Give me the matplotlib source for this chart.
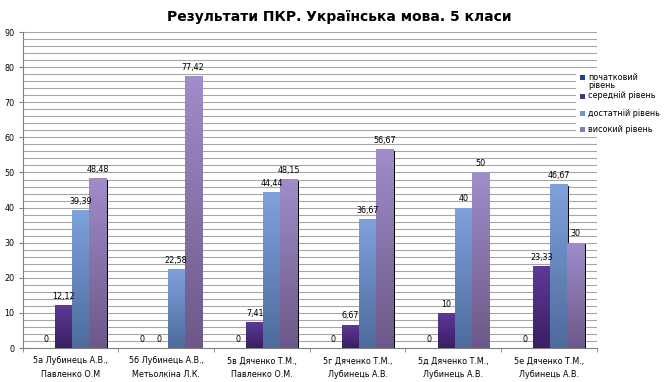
import matplotlib
matplotlib.use("Agg")
import matplotlib.pyplot as plt
import numpy as np
from matplotlib.colors import LinearSegmentedColormap
from matplotlib.patches import Rectangle

# ============================================================================
# Data
# ============================================================================

CATEGORIES = [
    "5а Лубинець А.В.,\nПавленко О.М",
    "5б Лубинець А.В.,\nМетьолкіна Л.К.",
    "5в Дяченко Т.М.,\nПавленко О.М.",
    "5г Дяченко Т.М.,\nЛубинець А.В.",
    "5д Дяченко Т.М.,\nЛубинець А.В.",
    "5е Дяченко Т.М.,\nЛубинець А.В.",
]
SERIES_NAMES = ["початковий\nрівень", "середній рівень", "достатній рівень", "високий рівень"]
POCHATKOVYI = [0, 0, 0, 0, 0, 0]
SEREDNII = [12.12, 0, 7.41, 6.67, 10, 23.33]
DOSTATNII = [39.39, 22.58, 44.44, 36.67, 40, 46.67]
VYSOKYI = [48.48, 77.42, 48.15, 56.67, 50, 30]
Y_TICKS = list(range(0, 91, 10))

# (top colour, bottom colour) for each series
SERIES_COLORS = [
    ("#2a4f9e", "#1b3577"),
    ("#5c3a98", "#3a1f62"),
    ("#7fa2dc", "#4d6b9c"),
    ("#a08dca", "#6c5888"),
]
LEGEND_COLORS = ["#1f3f8f", "#4e2d85", "#6f93cf", "#8c79b4"]
# legend row positions (pixels from top)
LEGEND_ROWS_PX = [77, 96, 113, 129]


def fmt(v):
    s = f"{v:.2f}".rstrip("0").rstrip(".")
    return s.replace(".", ",")


def main():
    W, H = 666, 382
    fig = plt.figure(figsize=(W / 100, H / 100), dpi=100)
    ax = fig.add_axes([0.034, 0.089, 0.862, 0.827])

    series = [POCHATKOVYI, SEREDNII, DOSTATNII, VYSOKYI]
    x = np.arange(len(CATEGORIES))
    width = 0.178
    offsets = (np.arange(4) - 1.5) * width + 0.015

    ax.set_xlim(-0.5, len(CATEGORIES) - 0.5)
    ax.set_ylim(0, 90)

    # gridlines every 2 units
    for yv in np.arange(2, 91, 2):
        ax.axhline(yv, color="#a6a6a6", linewidth=0.8, zorder=0)

    grad = np.linspace(1, 0, 256).reshape(-1, 1)
    for k, vals in enumerate(series):
        top, bottom = SERIES_COLORS[k]
        cmap = LinearSegmentedColormap.from_list(f"s{k}", [bottom, top])
        xs = x + offsets[k]
        # shadow
        ax.bar(xs + 0.016, np.array(vals) - 0.5, width=width, color="black",
               zorder=1, linewidth=0)
        bars = ax.bar(xs, vals, width=width, color=top, zorder=2, linewidth=0)
        for b, v in zip(bars, vals):
            if v > 0:
                x0 = b.get_x()
                im = ax.imshow(grad, extent=[x0, x0 + width, 0, v], aspect="auto",
                               cmap=cmap, zorder=3, interpolation="bilinear")
                im.set_clip_path(b)
            ax.text(b.get_x() + width / 2, v + 1.2, fmt(v), ha="center", va="bottom",
                    fontsize=5.8, color="black", zorder=4)

    ax.set_xlim(-0.5, len(CATEGORIES) - 0.5)
    ax.set_ylim(0, 90)

    ax.set_yticks(Y_TICKS)
    ax.set_yticklabels([str(t) for t in Y_TICKS], fontsize=5.8)
    ax.set_xticks(x)
    ax.set_xticklabels(CATEGORIES, fontsize=5.8, linespacing=1.7)
    ax.set_xticks(np.arange(-0.5, len(CATEGORIES)), minor=True)
    ax.tick_params(axis="x", which="major", length=0, pad=6)
    ax.tick_params(axis="x", which="minor", length=3, color="#808080")
    ax.tick_params(axis="y", length=3, color="#808080", pad=3)

    for s in ["top", "right"]:
        ax.spines[s].set_visible(False)
    ax.spines["left"].set_color("#808080")
    ax.spines["bottom"].set_color("#808080")
    ax.spines["left"].set_linewidth(0.8)
    ax.spines["bottom"].set_linewidth(0.8)

    fig.text(0.51, 0.955, "Результати ПКР. Українська мова. 5 класи",
             ha="center", va="center", fontsize=10, fontweight="bold",
             family="DejaVu Sans")

    # legend drawn by hand so the wrapped first label lines up like the original
    fig.patches.append(Rectangle((576 / W, 1 - 137 / H), 90 / W, 67 / H,
                                 transform=fig.transFigure, facecolor="white",
                                 edgecolor="none", zorder=5))
    for name, color, ypx in zip(SERIES_NAMES, LEGEND_COLORS, LEGEND_ROWS_PX):
        fig.patches.append(Rectangle((580 / W, 1 - (ypx + 2.5) / H), 5 / W, 5 / H,
                                     transform=fig.transFigure, facecolor=color,
                                     edgecolor="none", zorder=6))
        if "\n" in name:
            fig.text(588 / W, 1 - (ypx - 4.5) / H, name, ha="left", va="top",
                     fontsize=5.8, linespacing=0.95, zorder=7)
        else:
            fig.text(588 / W, 1 - ypx / H, name, ha="left", va="center",
                     fontsize=5.8, zorder=7)

    fig.savefig("out.png", dpi=100)
    plt.close(fig)


if __name__ == "__main__":
    main()
